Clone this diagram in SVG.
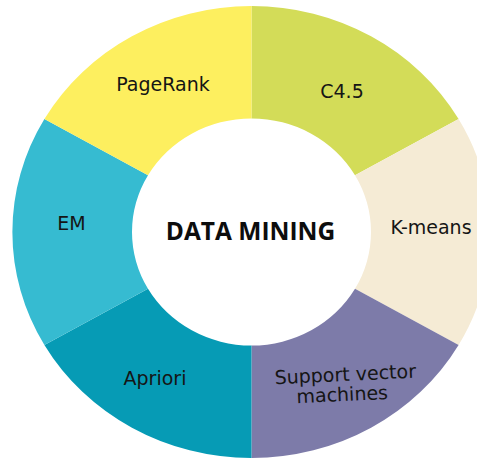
<svg xmlns="http://www.w3.org/2000/svg" width="477" height="458" viewBox="0 0 477 458">
<style>
.lbl{font-family:"DejaVu Sans","Liberation Sans",sans-serif;font-size:19px;fill:#151515;text-anchor:middle}
.ctr{font-family:"Open Sans","DejaVu Sans",sans-serif;font-weight:700;font-size:24.5px;fill:#0d0d0d;text-anchor:middle}
</style>
<rect width="477" height="458" fill="#ffffff"/>
<g id="c45">
<path d="M251.5 6 A239 226 0 0 1 458.6 119 L355 175.25 A119.5 113.5 0 0 0 251.5 118.5 Z" fill="#d3dc58"/>
<text class="lbl" x="342" y="98">C4.5</text>
</g>
<g id="kmeans">
<path d="M458.6 119 A239 226 0 0 1 458.6 345 L355 288.75 A119.5 113.5 0 0 0 355 175.25 Z" fill="#f5ebd5"/>
<text class="lbl" x="431" y="234">K-means</text>
</g>
<g id="svm">
<path d="M458.6 345 A239 226 0 0 1 251.5 458 L251.5 345.5 A119.5 113.5 0 0 0 355 288.75 Z" fill="#7d7ba9"/>
<g transform="rotate(-2.7 344 390)">
<text class="lbl" x="346" y="381">Support vector</text>
<text class="lbl" x="342" y="401">machines</text>
</g>
</g>
<g id="apriori">
<path d="M251.5 458 A239 226 0 0 1 44.4 345 L148 288.75 A119.5 113.5 0 0 0 251.5 345.5 Z" fill="#069bb5"/>
<text class="lbl" x="155" y="384.5">Apriori</text>
</g>
<g id="em">
<path d="M44.4 345 A239 226 0 0 1 44.4 119 L148 175.25 A119.5 113.5 0 0 0 148 288.75 Z" fill="#36bbd1"/>
<text class="lbl" x="71.5" y="230">EM</text>
</g>
<g id="pagerank">
<path d="M44.4 119 A239 226 0 0 1 251.5 6 L251.5 118.5 A119.5 113.5 0 0 0 148 175.25 Z" fill="#fdef5f"/>
<text class="lbl" x="163" y="91">PageRank</text>
</g>
<g id="center">
<text class="ctr" x="250.5" y="240">DATA MINING</text>
</g>
<g id="connectors"></g>
</svg>
